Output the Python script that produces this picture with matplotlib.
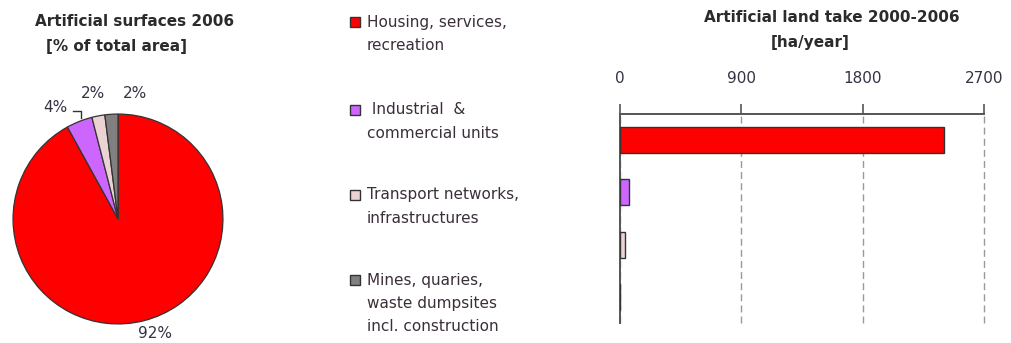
import matplotlib
matplotlib.use("Agg")
import matplotlib.pyplot as plt

# Land cover classes of artificial surfaces
categories = [
    "Housing, services,\nrecreation",
    " Industrial  &\ncommercial units",
    "Transport networks,\ninfrastructures",
    "Mines, quaries,\nwaste dumpsites\nincl. construction",
]
colors = ["#FF0000", "#CC66FF", "#EBD3D3", "#808080"]

# Share of total artificial area, 2006 [%]
share_2006 = [92, 4, 2, 2]

# Annual land take 2000-2006 [ha/year]
land_take = [2400, 70, 35, 0]
xticks = [0, 900, 1800, 2700]

W, H = 1011, 343
fig = plt.figure(figsize=(W / 100, H / 100), dpi=100)
text_col = "#2b2b2b"
edge_col = "#333333"
FS = 11


def px_axes(x0, y0, x1, y1):
    """Axes from pixel box (top-left origin)."""
    return fig.add_axes([x0 / W, (H - y1) / H, (x1 - x0) / W, (y1 - y0) / H])


# ---- pie ----
ax_pie = px_axes(12, 113, 224, 325)
ax_pie.pie(
    share_2006, colors=colors, startangle=90, counterclock=False,
    wedgeprops=dict(edgecolor=edge_col, linewidth=0.9),
)
ax_pie.set_xlim(-1.01, 1.01)
ax_pie.set_ylim(-1.01, 1.01)
ax_pie.set_aspect("equal")

fig.text(135 / W, 1 - 22 / H, "Artificial surfaces 2006", ha="center", va="center",
         fontsize=FS, fontweight="bold", color=text_col)
fig.text(116 / W, 1 - 47 / H, "[% of total area]", ha="center", va="center",
         fontsize=FS, fontweight="bold", color=text_col)

lbl = dict(ha="center", va="center", fontsize=FS, color="#333344")
fig.text(155 / W, 1 - 333 / H, f"{share_2006[0]}%", **lbl)
fig.text(55 / W, 1 - 108 / H, f"{share_2006[1]}%", **lbl)
fig.text(93 / W, 1 - 93 / H, f"{share_2006[2]}%", **lbl)
fig.text(135 / W, 1 - 93 / H, f"{share_2006[3]}%", **lbl)
# leader line for the 4% label
fig.add_artist(plt.Line2D([73 / W, 81 / W, 81 / W],
                          [1 - 110.5 / H, 1 - 110.5 / H, 1 - 118 / H],
                          color="#333333", linewidth=1.0))

# ---- legend ----
legend_y = [22, 110, 195, 280]
for cat, col, y in zip(categories, colors, legend_y):
    fig.patches.append(plt.Rectangle((350 / W, 1 - (y + 5) / H), 10 / W, 10 / H,
                                     facecolor=col, edgecolor=edge_col,
                                     linewidth=1.0, transform=fig.transFigure))
    fig.text(367 / W, 1 - (y - 7.5) / H, cat, ha="left", va="top", fontsize=FS,
             color="#3a2f3a", linespacing=1.68)

# ---- horizontal bars ----
ax_bar = px_axes(620, 114, 984.3, 323)
ypos = list(range(len(categories)))
ax_bar.barh(ypos, land_take, height=0.5, color=colors, edgecolor=edge_col,
            linewidth=1.0, zorder=3)
ax_bar.set_xlim(0, 2700)
ax_bar.set_ylim(len(categories) - 0.5, -0.5)
ax_bar.set_xticks(xticks)
ax_bar.set_xticklabels([str(t) for t in xticks], fontsize=FS, color="#333344")
ax_bar.xaxis.set_ticks_position("top")
ax_bar.xaxis.set_label_position("top")
ax_bar.tick_params(axis="x", direction="out", length=7, width=1.2,
                   color="#555555", pad=13)
ax_bar.set_yticks([])
for side in ["right", "bottom"]:
    ax_bar.spines[side].set_visible(False)
for side in ["top", "left"]:
    ax_bar.spines[side].set_color("#555555")
    ax_bar.spines[side].set_linewidth(1.4)
ax_bar.grid(axis="x", linestyle=(0, (5, 3)), color="#999999", linewidth=1.0, zorder=0)
for gl in ax_bar.get_xgridlines():
    gl.set_clip_on(False)
ax_bar.set_facecolor("none")

fig.text(832 / W, 1 - 18 / H, "Artificial land take 2000-2006", ha="center",
         va="center", fontsize=FS, fontweight="bold", color=text_col)
fig.text(810 / W, 1 - 43 / H, "[ha/year]", ha="center", va="center",
         fontsize=FS, fontweight="bold", color=text_col)

fig.savefig("out.png", dpi=100)
